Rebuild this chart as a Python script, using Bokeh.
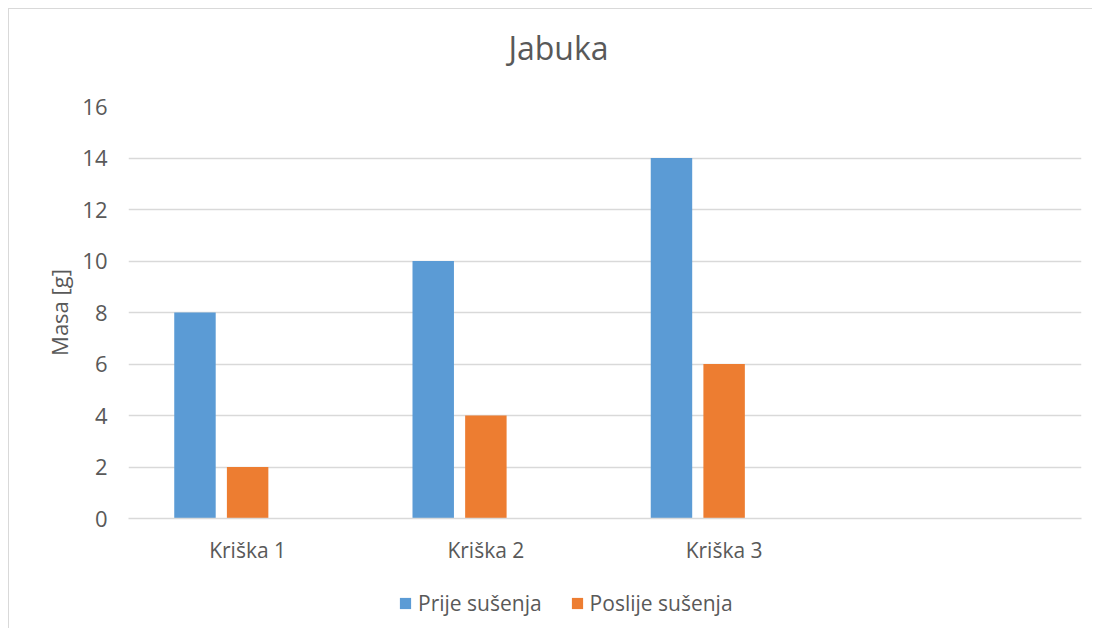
from bokeh.plotting import figure
from bokeh.layouts import column
from bokeh.models import (FactorRange, Range1d, Legend, LegendItem, ColumnDataSource,
                          FixedTicker, Label)
from bokeh.transform import dodge
from bokeh.embed import file_html
from bokeh.resources import INLINE

title_text = "Jabuka"
categories = ["Kriška 1", "Kriška 2", "Kriška 3"]
prije_susenja = [8, 10, 14]
poslije_susenja = [2, 4, 6]
y_ticks = [0, 2, 4, 6, 8, 10, 12, 14, 16]
series_names = ["Prije sušenja", "Poslije sušenja"]
series_colors = ["#5b9bd5", "#ed7d31"]

FONT = "Open Sans"
TXT = "#595959"
GRID = "#d9d9d9"

factors = categories + [" "]  # empty fourth category slot
src = ColumnDataSource(dict(cat=categories, prije=prije_susenja, poslije=poslije_susenja))
x_range = FactorRange(factors=factors, range_padding=0)

# ---- title strip ----
tf = figure(width=1083, height=70, x_range=Range1d(0, 1), y_range=Range1d(0, 1),
            output_backend="svg", toolbar_location=None,
            x_axis_location=None, y_axis_location=None, min_border=0)
tf.outline_line_color = None
tf.grid.grid_line_color = None
tf.add_layout(Label(x=430, y=32, x_units="screen", y_units="screen", text=title_text,
                    text_align="center", text_baseline="alphabetic",
                    text_font=FONT, text_font_size="32px", text_color=TXT))

# ---- main chart ----
p = figure(x_range=x_range, y_range=Range1d(0, 16),
           width=1083, height=502,
           output_backend="svg", toolbar_location=None,
           min_border_left=119, min_border_right=11,
           min_border_top=27, min_border_bottom=63)

p.vbar(x=dodge("cat", -0.221, range=x_range), top="prije", width=0.174, bottom=0,
       source=src, fill_color=series_colors[0], line_color=None)
p.vbar(x=dodge("cat", 0.0, range=x_range), top="poslije", width=0.174, bottom=0,
       source=src, fill_color=series_colors[1], line_color=None)

p.outline_line_color = None
p.xgrid.grid_line_color = None
p.ygrid.grid_line_color = GRID
p.ygrid.grid_line_width = 1.3
p.ygrid.ticker = FixedTicker(ticks=y_ticks)

p.yaxis.ticker = FixedTicker(ticks=y_ticks)
p.yaxis.axis_line_color = None
p.yaxis.major_tick_line_color = None
p.yaxis.minor_tick_line_color = None
p.yaxis.major_label_text_font = FONT
p.yaxis.major_label_text_font_size = "22px"
p.yaxis.major_label_text_color = TXT
p.yaxis.major_label_standoff = 15
p.yaxis.axis_label = "Masa [g]"
p.yaxis.axis_label_text_font = FONT
p.yaxis.axis_label_text_font_size = "22px"
p.yaxis.axis_label_text_font_style = "normal"
p.yaxis.axis_label_text_color = TXT
p.yaxis.axis_label_standoff = 5

p.xaxis.axis_line_color = GRID
p.xaxis.axis_line_width = 1.3
p.xaxis.major_tick_line_color = None
p.xaxis.minor_tick_line_color = None
p.xaxis.major_label_text_font = FONT
p.xaxis.major_label_text_font_size = "21px"
p.xaxis.major_label_text_color = TXT
p.xaxis.major_label_standoff = 11

# ---- legend strip below the chart (its bars lie outside its y range) ----
lf = figure(width=1083, height=47, x_range=x_range, y_range=Range1d(100, 101),
            output_backend="svg", toolbar_location=None,
            x_axis_location=None, y_axis_location=None, min_border=0)
lf.outline_line_color = None
lf.grid.grid_line_color = None
items = []
for name, col, field in zip(series_names, series_colors, ["prije", "poslije"]):
    r = lf.vbar(x="cat", top=field, bottom=0, width=0.174, source=src,
                fill_color=col, line_color=None)
    items.append(LegendItem(label=name, renderers=[r]))
legend = Legend(items=items, orientation="horizontal", location=(270, 11),
                glyph_width=14, glyph_height=14, label_height=20,
                label_standoff=6, spacing=28, padding=0, margin=0,
                border_line_color=None, background_fill_alpha=0,
                label_text_font=FONT, label_text_font_size="21px", label_text_color=TXT)
lf.add_layout(legend, "center")

layout = column(tf, p, lf, spacing=0)
layout.styles = {"margin-left": "8px", "margin-top": "8px",
                 "border-left": "1px solid #d9d9d9", "border-top": "1px solid #d9d9d9"}

open("out.html", "w").write(file_html(layout, INLINE))
